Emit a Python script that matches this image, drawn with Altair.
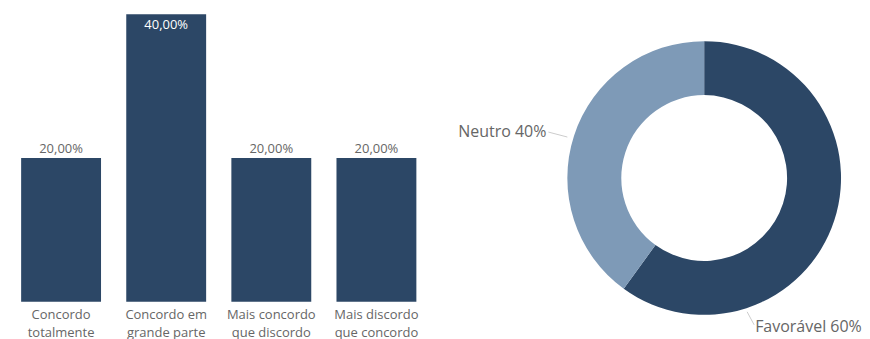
import altair as alt
import pandas as pd

# ---- data ----
categories = ["Concordo\ntotalmente", "Concordo em\ngrande parte",
              "Mais concordo\nque discordo", "Mais discordo\nque concordo"]
shares = [0.20, 0.40, 0.20, 0.20]

slices = ["Favorável", "Neutro"]
slice_pct = [60, 40]

DARK = "#2C4766"
LIGHT = "#7E9AB7"
FONT = "Open Sans"
GRAY = "#666666"

bars_df = pd.DataFrame({"cat": categories, "value": shares})
donut_df = pd.DataFrame({"slice": slices, "pct": slice_pct, "ord": [0, 1]})

max_val = max(shares)

base = alt.Chart(bars_df).transform_calculate(
    lbl="replace(format(datum.value, '.2%'), '.', ',')"
)

x_enc = alt.X("cat:N", sort=categories, title=None,
              scale=alt.Scale(paddingInner=0.24, paddingOuter=0.125),
              axis=alt.Axis(labelAngle=0, ticks=False, domain=False,
                            labelExpr="split(datum.value, '\\n')",
                            labelFont=FONT, labelFontSize=13, labelColor=GRAY,
                            labelLineHeight=18, labelPadding=7))
y_enc = alt.Y("value:Q", title=None, scale=alt.Scale(domain=[0, max_val]),
              axis=None)

bars = base.mark_bar(color=DARK).encode(x=x_enc, y=y_enc)

lbl_out = base.transform_filter(f"datum.value < {max_val}").mark_text(
    baseline="bottom", dy=-2, font=FONT, fontSize=13, color=GRAY
).encode(x=alt.X("cat:N", sort=categories), y="value:Q", text="lbl:N")

lbl_in = base.transform_filter(f"datum.value >= {max_val}").mark_text(
    baseline="top", dy=5, font=FONT, fontSize=13, color="white"
).encode(x=alt.X("cat:N", sort=categories), y="value:Q", text="lbl:N")

bar_chart = alt.layer(bars, lbl_out, lbl_in).properties(width=422, height=288)

# ---- donut ----
dbase = alt.Chart(donut_df).transform_calculate(
    lbl="datum.slice + ' ' + datum.pct + '%'"
)

arc = dbase.mark_arc(innerRadius=83, outerRadius=137).encode(
    theta=alt.Theta("pct:Q", stack=True),
    order=alt.Order("ord:Q"),
    color=alt.Color("slice:N", scale=alt.Scale(domain=slices, range=[DARK, LIGHT]),
                    legend=None),
    x=alt.value(255), y=alt.value(164),
)

t_neutro = dbase.transform_filter("datum.slice == 'Neutro'").mark_text(
    align="right", baseline="middle", font=FONT, fontSize=16, color=GRAY
).encode(text="lbl:N", x=alt.value(97), y=alt.value(118))

t_fav = dbase.transform_filter("datum.slice == 'Favorável'").mark_text(
    align="left", baseline="middle", font=FONT, fontSize=16, color=GRAY
).encode(text="lbl:N", x=alt.value(306), y=alt.value(313))

c_neutro = dbase.transform_filter("datum.slice == 'Neutro'").mark_rule(
    color="#cccccc", strokeWidth=1
).encode(x=alt.value(99), y=alt.value(118), x2=alt.value(118), y2=alt.value(123))

c_fav = dbase.transform_filter("datum.slice == 'Favorável'").mark_rule(
    color="#cccccc", strokeWidth=1
).encode(x=alt.value(298), y=alt.value(298), x2=alt.value(305), y2=alt.value(311))

donut = alt.layer(arc, c_neutro, c_fav, t_neutro, t_fav).properties(width=380, height=288)

chart = alt.hconcat(bar_chart, donut, spacing=20).properties(
    padding={"left": 0, "top": 6, "right": 0, "bottom": 0}
).configure_view(stroke=None)

chart.save("out.html", embed_options={"renderer": "svg", "actions": False})
